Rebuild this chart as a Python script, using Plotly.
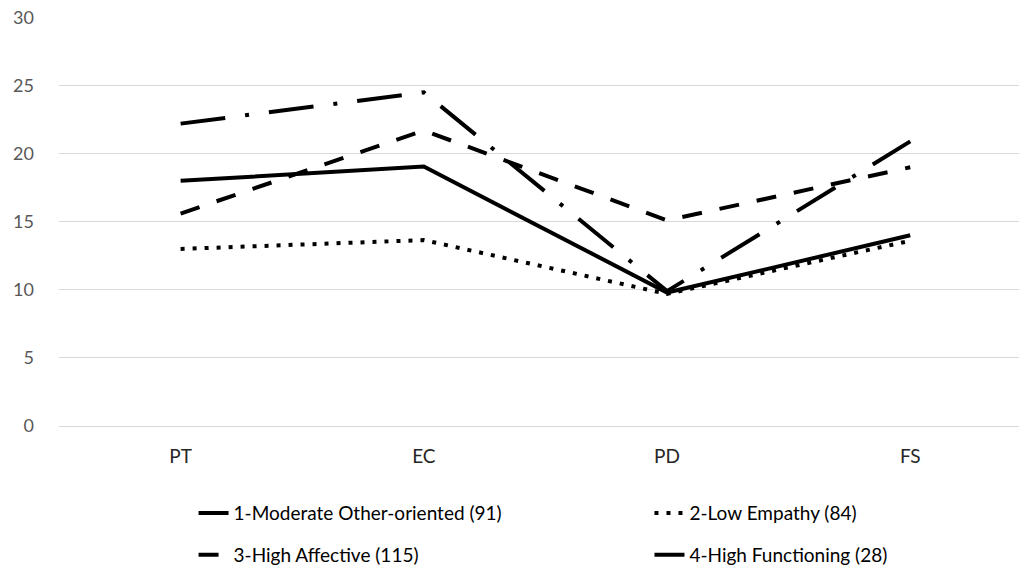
import plotly.graph_objects as go

categories = ["PT", "EC", "PD", "FS"]
moderate = [18.0, 19.05, 9.8, 14.0]
low_empathy = [13.0, 13.65, 9.7, 13.6]
high_affective = [15.6, 21.7, 15.1, 19.0]
high_functioning = [22.2, 24.5, 9.9, 20.9]

names = ["1-Moderate Other-oriented (91)", "2-Low Empathy (84)",
         "3-High Affective (115)", "4-High Functioning (28)"]
y_ticks = [0, 5, 10, 15, 20, 25, 30]

series = [moderate, low_empathy, high_affective, high_functioning]
dashes = ["solid", "4px,8px", "20px,18px", "45px,20px,4px,20px"]
legends = ["legend", "legend2", "legend3", "legend4"]

fig = go.Figure()
for vals, nm, d, lg in zip(series, names, dashes, legends):
    fig.add_trace(go.Scatter(
        x=categories, y=vals, name=nm, mode="lines",
        line=dict(color="black", width=4, dash=d),
        legend=lg,
    ))

font_family = "Lato, Open Sans, sans-serif"
leg_common = dict(orientation="h", xanchor="left", yanchor="middle",
                  font=dict(family=font_family, size=19, color="#000000"),
                  bgcolor="rgba(0,0,0,0)")

# page body has an 8px margin; figure is sized to fit the remaining viewport
col1, col2 = 0.139, 0.610
row1, row2 = -0.213, -0.315

fig.update_layout(
    width=1019, height=561,
    margin=dict(l=51, r=0, t=9, b=143, autoexpand=False),
    plot_bgcolor="white", paper_bgcolor="white",
    showlegend=True,
    legend=dict(x=col1, y=row1, **leg_common),
    legend2=dict(x=col2, y=row1, **leg_common),
    legend3=dict(x=col1, y=row2, **leg_common),
    legend4=dict(x=col2, y=row2, **leg_common),
    xaxis=dict(range=[-0.5, 3.48], showgrid=False, showline=False, zeroline=False,
               ticks="", ticklabelstandoff=17, automargin=False,
               tickfont=dict(family=font_family, size=19, color="#262626")),
    yaxis=dict(range=[0, 30.03], tickvals=y_ticks, showgrid=True, gridcolor="#d9d9d9",
               gridwidth=1, zeroline=True, zerolinecolor="#d9d9d9", zerolinewidth=1,
               showline=False, ticks="", ticklabelstandoff=24, automargin=False,
               ticklabeloverflow="allow",
               tickfont=dict(family=font_family, size=18, color="#595959")),
)

fig.write_html("out.html")
